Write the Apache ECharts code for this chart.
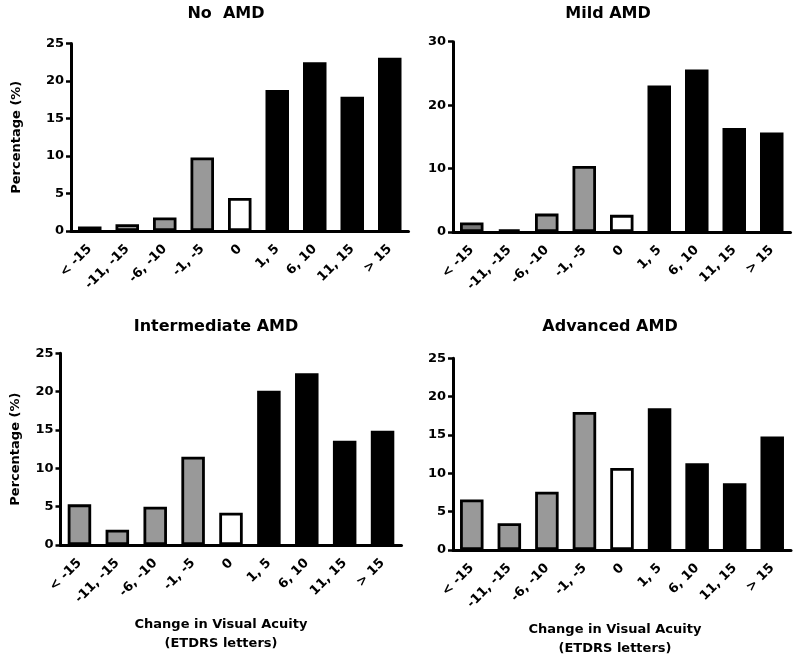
<!DOCTYPE html>
<html>
<head>
<meta charset="utf-8">
<script src="https://cdn.jsdelivr.net/npm/echarts@6/dist/echarts.min.js"></script>
<style>
  html, body { margin: 0; padding: 0; background: #ffffff; }
  #chart { width: 800px; height: 662px; }
</style>
</head>
<body>
<div id="chart"></div>
<script>
// ---- Data ----
const categories = ['< -15', '-11, -15', '-6, -10', '-1, -5', '0', '1, 5', '6, 10', '11, 15', '> 15'];
const panelTitles = ['No  AMD', 'Mild AMD', 'Intermediate AMD', 'Advanced AMD'];
const noAMD = [0.6, 0.9, 1.8, 9.8, 4.4, 18.8, 22.5, 17.9, 23.1];
const mildAMD = [1.5, 0.4, 2.9, 10.4, 2.7, 23.1, 25.6, 16.4, 15.7];
const intermediateAMD = [5.3, 2.0, 5.0, 11.5, 4.2, 20.1, 22.4, 13.6, 14.9];
const advancedAMD = [6.6, 3.5, 7.6, 18.0, 10.7, 18.5, 11.3, 8.7, 14.8];
const yMax = [25, 30, 25, 25];
const yStep = [5, 10, 5, 5];
const yAxisTitle = 'Percentage (%)';
const xAxisTitle = 'Change in Visual Acuity\n(ETDRS letters)';

// ---- Styles / layout ----
const FONT = '"DejaVu Sans", sans-serif';
const GRAY = '#999999';
const DARK_GRAY = '#777777';
const grids = [
  { left: 71, top: 43.5, width: 337.5, height: 187.5 },
  { left: 453, top: 41.7, width: 337.5, height: 190.3 },
  { left: 60.5, top: 353.3, width: 341, height: 191.7 },
  { left: 453, top: 358.3, width: 338, height: 191.7 }
];
const titlePos = [[226, 14], [608, 14], [216, 327], [610, 327]];
const darkFirst = [true, true, false, false];
const seriesData = [noAMD, mildAMD, intermediateAMD, advancedAMD];

function fillFor(panel, i) {
  if (i < 4) return (i === 0 && darkFirst[panel]) ? DARK_GRAY : GRAY;
  if (i === 4) return '#ffffff';
  return '#000000';
}

const option = {
  backgroundColor: '#ffffff',
  animation: false,
  grid: grids.map(g => Object.assign({ containLabel: false }, g)),
  xAxis: grids.map((g, p) => ({
    type: 'category',
    gridIndex: p,
    data: categories,
    axisLine: { lineStyle: { color: '#000', width: 3 } },
    axisTick: { alignWithLabel: true, length: 8, lineStyle: { color: '#000', width: 3 } },
    axisLabel: {
      interval: 0, rotate: 45, margin: 16,
      color: '#000', fontFamily: FONT, fontWeight: 'bold', fontSize: 13
    },
    name: p >= 2 ? xAxisTitle : '',
    nameLocation: 'middle',
    nameGap: 70,
    nameTextStyle: {
      color: '#000', fontFamily: FONT, fontWeight: 'bold', fontSize: 13,
      lineHeight: 19, padding: [0, p === 2 ? 20 : 14, 0, 0]
    },
    splitLine: { show: false }
  })),
  yAxis: grids.map((g, p) => ({
    type: 'value',
    gridIndex: p,
    min: 0, max: yMax[p], interval: yStep[p],
    axisLine: { show: true, lineStyle: { color: '#000', width: 3 } },
    axisTick: { show: true, length: 5, lineStyle: { color: '#000', width: 2.5 } },
    axisLabel: { margin: 7, color: '#000', fontFamily: FONT, fontWeight: 'bold', fontSize: 13 },
    splitLine: { show: false },
    name: (p === 0 || p === 2) ? yAxisTitle : '',
    nameLocation: 'middle',
    nameRotate: 90,
    nameGap: p === 0 ? 48 : 38,
    nameTextStyle: { color: '#000', fontFamily: FONT, fontWeight: 'bold', fontSize: 13 }
  })),
  series: seriesData.map((d, p) => ({
    type: 'bar',
    xAxisIndex: p,
    yAxisIndex: p,
    barWidth: 23.5,
    data: d,
    itemStyle: {
      color: params => fillFor(p, params.dataIndex),
      borderColor: '#000',
      borderWidth: 2.8
    }
  })),
  graphic: panelTitles.map((t, p) => ({
    type: 'text',
    x: titlePos[p][0],
    y: titlePos[p][1],
    style: {
      text: t, textAlign: 'center', textVerticalAlign: 'middle',
      font: 'bold 16px ' + FONT, fill: '#000'
    }
  }))
};

const chart = echarts.init(document.getElementById('chart'), null, { renderer: 'canvas' });
chart.setOption(option);
</script>
</body>
</html>
